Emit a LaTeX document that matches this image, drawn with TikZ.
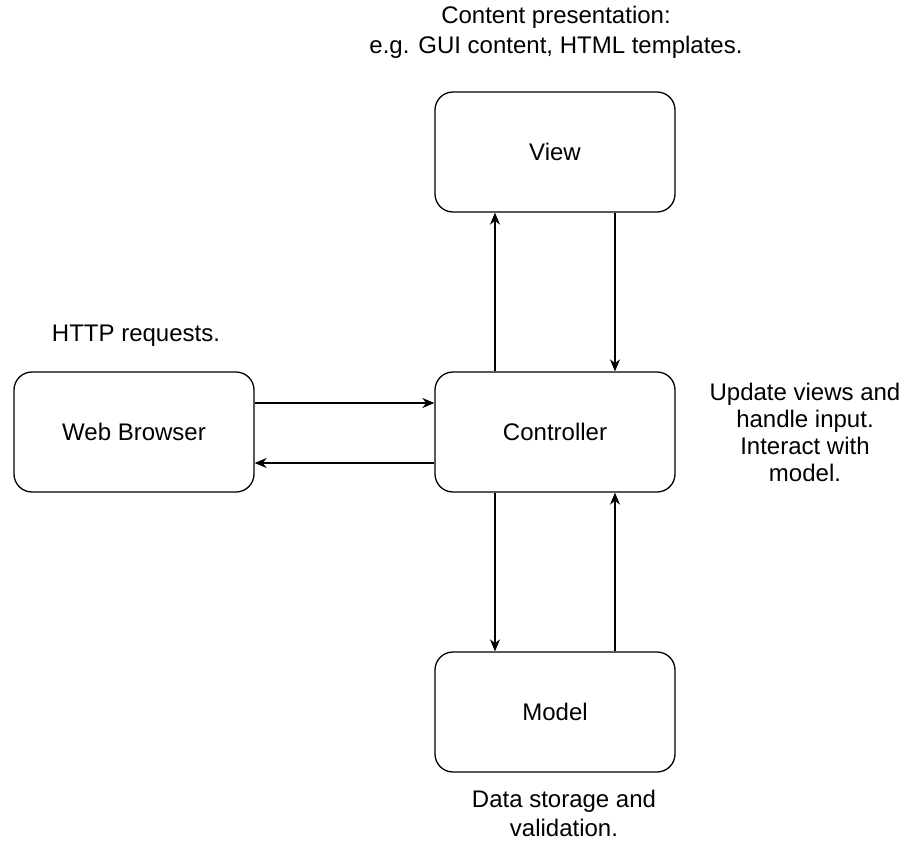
\documentclass[tikz,border=0pt]{standalone}
\usepackage{fontspec}
\setmainfont{Liberation Sans}
\usetikzlibrary{arrows.meta}
\begin{document}
\begin{tikzpicture}[x=1pt,y=-1pt,
  box/.style={draw, line width=1.3pt, rounded corners=18pt, minimum width=240pt, minimum height=120pt, inner sep=0pt, font=\fontsize{24}{28}\selectfont},
  lbl/.style={align=center, inner sep=0pt, font=\fontsize{24}{27}\selectfont},
  conn/.style={line width=1.3pt, -{Stealth[length=12pt,width=10pt]}}]
\useasboundingbox (0,0) rectangle (906,841);
\node[box] (view) at (555,152) {View};
\node[box] (web) at (134,432) {Web Browser};
\node[box] (ctrl) at (555,432) {Controller};
\node[box] (model) at (555,712) {Model};
\node[lbl, font=\fontsize{24}{30}\selectfont] (tl) at (556,32) {Content presentation:\\e.g. GUI content, HTML templates.};
\node[lbl] (hl) at (136,336) {HTTP requests.};
\node[lbl] (cl) at (805,432) {Update views and\\handle input.\\Interact with\\model.};
\node[lbl, font=\fontsize{24}{29}\selectfont] (ml) at (564,813) {Data storage and\\validation.};
\draw[conn] (ctrl.north -| 495,0) -- (view.south -| 495,0);
\draw[conn] (view.south -| 615,0) -- (ctrl.north -| 615,0);
\draw[conn] (web.east |- 0,403) -- (ctrl.west |- 0,403);
\draw[conn] (ctrl.west |- 0,463) -- (web.east |- 0,463);
\draw[conn] (ctrl.south -| 495,0) -- (model.north -| 495,0);
\draw[conn] (model.north -| 615,0) -- (ctrl.south -| 615,0);
\end{tikzpicture}
\end{document}
